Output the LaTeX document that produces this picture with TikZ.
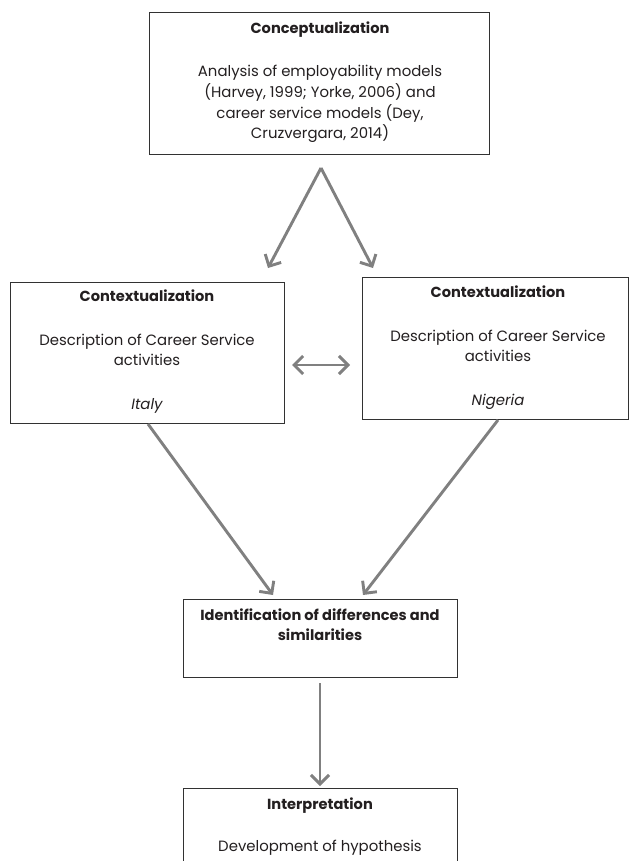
\documentclass[tikz,border=0pt]{standalone}
\usepackage{fontspec}
\setmainfont{Poppins}
\usetikzlibrary{arrows.meta}
\definecolor{arrgray}{RGB}{128,128,128}
\definecolor{txt}{RGB}{35,31,32}
\definecolor{edge}{RGB}{50,50,50}
\tikzset{
  box/.style={draw=edge, line width=1.1pt, anchor=north west, inner sep=0pt},
  head/.style={font=\fontsize{14.6}{20.7}\selectfont\bfseries, text=txt, inner sep=0pt, anchor=mid, align=center},
  body/.style={font=\fontsize{14.9}{20.7}\selectfont, text=txt, inner sep=0pt, align=center, anchor=mid},
  ital/.style={body, font=\fontsize{14.9}{20.7}\selectfont\itshape},
  barb/.tip={Straight Barb[length=9pt,width=18pt,line width=2.9pt]},
  arr/.style={draw=arrgray, line width=2.9pt, -barb},
  darr/.style={draw=arrgray, line width=2.9pt, barb-barb}
}
\begin{document}
\begin{tikzpicture}[x=1pt,y=-1pt]
\useasboundingbox[fill=white] (0,0) rectangle (629,861);
% boxes
\node[box, minimum width=340pt, minimum height=142pt] (concept) at (149,12) {};
\node[box, minimum width=274pt, minimum height=141pt] (ctxL) at (10,282) {};
\node[box, minimum width=266pt, minimum height=142pt] (ctxR) at (362,277) {};
\node[box, minimum width=274pt, minimum height=78pt] (ident) at (183,599) {};
\node[box, minimum width=274pt, minimum height=110pt] (interp) at (183,788) {};
% texts (anchor mid refers to the last line)
\node[head] (t1) at (320,31) {Conceptualization};
\node[body] (b1) at (320,136) {Analysis of employability models\\(Harvey, 1999; Yorke, 2006) and\\career service models (Dey,\\Cruzvergara, 2014)};
\node[head] (t2) at (147,299) {Contextualization};
\node[body] (b2) at (147,363) {Description of Career Service\\activities};
\node[ital] (c2) at (147,407) {Italy};
\node[head] (t3) at (498,295) {Contextualization};
\node[body] (b3) at (498,359) {Description of Career Service\\activities};
\node[ital] (c3) at (498,403) {Nigeria};
\node[head] (t4) at (320,638) {Identification of differences and\\similarities};
\node[head] (t5) at (320,807) {Interpretation};
\node[body] (b5) at (320,849) {Development of hypothesis};
% connector end points
\coordinate (apex) at (321,168);
\coordinate (tipL) at (268,268);
\coordinate (tipR) at (373,268);
\coordinate (srcL) at (148,424);
\coordinate (srcR) at (498,420);
\coordinate (tipIL) at (273,595);
\coordinate (tipIR) at (363,595);
\coordinate (srcI) at (320,683);
\coordinate (tipI) at (320,786);
\coordinate (dL) at (292,365);
\coordinate (dR) at (350,365);
% connectors
\draw[arr] (apex) -- (tipL);
\draw[arr] (apex) -- (tipR);
\draw[darr] (dL) -- (dR);
\draw[arr] (srcL) -- (tipIL);
\draw[arr] (srcR) -- (tipIR);
\draw[arr] (srcI) -- (tipI);
\end{tikzpicture}
\end{document}
